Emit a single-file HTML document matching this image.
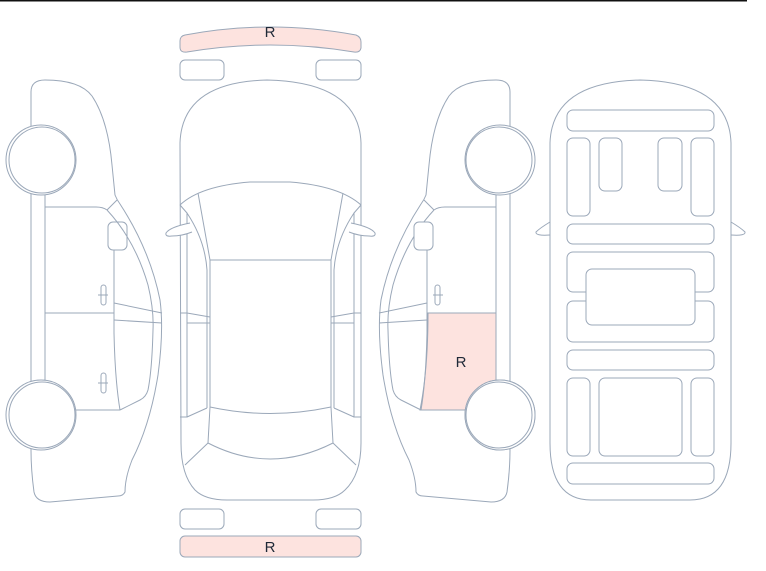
<!DOCTYPE html>
<html><head><meta charset="utf-8"><style>
html,body{margin:0;padding:0;background:#fff;}
svg{display:block;}
text{font-family:"Liberation Sans",sans-serif;font-size:15px;fill:#1f2937;}
</style></head><body>
<svg width="766" height="571" viewBox="0 0 766 571" xmlns="http://www.w3.org/2000/svg">
<rect x="0" y="0" width="747" height="1.5" fill="#111"/>
<defs>
<g id="side" fill="none" stroke="#9ba8b9" stroke-width="1">
  <path d="M31,92 Q31,80 45,80 Q80,80 92,96 Q108,120 112,165 L115,195 Q117,200 120,204 Q150,250 160,300 Q164,330 158,375 Q150,425 132,460 Q125,478 125,492 Q123,496 118,496 L50,502 Q36,502 34,492 Q31,470 31,450 Z" fill="#fff"/>
  <path d="M107,210 L117,200"/>
  <path d="M107,210 Q135,240 148,285 Q154,310 153,330 Q152,370 148,390 Q146,397 140,400 L120,410"/>
  <path d="M45,207 L96,207 Q103,207 107,210"/>
  <line x1="45" y1="195" x2="45" y2="380"/>
  <line x1="45" y1="313" x2="114" y2="313"/>
  <path d="M114,250 L114,333 Q115,380 120,410"/>
  <line x1="75" y1="410" x2="120" y2="410"/>
  <path d="M114,303 L162,313 M114,320 L162,323"/>
  <rect x="108" y="222" width="19" height="28" rx="5"/>
  <rect x="101" y="285" width="5" height="20" rx="2.5"/>
  <line x1="98" y1="295" x2="108" y2="295"/>
  <rect x="101" y="373" width="5" height="20" rx="2.5"/>
  <line x1="98" y1="383" x2="108" y2="383"/>
  <circle cx="41" cy="160" r="35" fill="#fff"/>
  <circle cx="42" cy="160" r="33" fill="#fff"/>
  <circle cx="41" cy="415" r="35" fill="#fff"/>
  <circle cx="42" cy="415" r="33" fill="#fff"/>
</g>
</defs>
<use href="#side"/>
<path d="M420,410 Q428,370 428,313 L496,313 L496,385 Q470,395 465,410 Z" fill="#fde3df" stroke="#9ba8b9" stroke-width="1"/>
<g transform="translate(541,0) scale(-1,1)">
  <g fill="none" stroke="#9ba8b9" stroke-width="1">
  <circle cx="41" cy="415" r="35" fill="#fff"/>
  <circle cx="42" cy="415" r="33" fill="#fff"/>
  </g>
</g>
<g transform="translate(541,0) scale(-1,1)">
  <g fill="none" stroke="#9ba8b9" stroke-width="1">
  <path d="M31,92 Q31,80 45,80 Q80,80 92,96 Q108,120 112,165 L115,195 Q117,200 120,204 Q150,250 160,300 Q164,330 158,375 Q150,425 132,460 Q125,478 125,492 Q123,496 118,496 L50,502 Q36,502 34,492 Q31,470 31,450 Z"/>
  <path d="M107,210 L117,200"/>
  <path d="M107,210 Q135,240 148,285 Q154,310 153,330 Q152,370 148,390 Q146,397 140,400 L120,410"/>
  <path d="M45,207 L96,207 Q103,207 107,210"/>
  <line x1="45" y1="195" x2="45" y2="380"/>
  <line x1="45" y1="313" x2="114" y2="313"/>
  <path d="M114,250 L114,333 Q115,380 120,410"/>
  <line x1="75" y1="410" x2="120" y2="410"/>
  <path d="M114,303 L162,313 M114,320 L162,323"/>
  <rect x="108" y="222" width="19" height="28" rx="5" fill="#fff"/>
  <rect x="101" y="285" width="5" height="20" rx="2.5" fill="#fff"/>
  <line x1="98" y1="295" x2="108" y2="295"/>
  <circle cx="41" cy="160" r="35" fill="#fff"/>
  <circle cx="42" cy="160" r="33" fill="#fff"/>
  <circle cx="41" cy="415" r="35" fill="#fff"/>
  <circle cx="42" cy="415" r="33" fill="#fff"/>
  </g>
</g>
<text x="461" y="367" text-anchor="middle">R</text>

<!-- top view -->
<g fill="none" stroke="#9ba8b9" stroke-width="1">
  <path d="M190,45 Q270,38 351,45 Q361,35 351,33 Q270,20 190,33 Q180,35 180,42 L180,45 Q182,52 190,52 Q270,40 351,52 Q361,52 361,45 L361,40" fill="none" stroke="none"/>
  <path d="M185,35 Q270,19 356,35 Q361,37 361,42 L361,48 Q360,53 354,52 Q270,38 187,52 Q180,53 180,47 L180,41 Q180,36 185,35 Z" fill="#fde3df"/>
  <rect x="180" y="60" width="44" height="20" rx="5"/>
  <rect x="316" y="60" width="45" height="20" rx="5"/>
  <rect x="180" y="509" width="44" height="20" rx="5"/>
  <rect x="316" y="509" width="45" height="20" rx="5"/>
  <rect x="180" y="536" width="181" height="21" rx="5" fill="#fde3df"/>
  <path d="M180,143 Q182,82 267,80 Q359,82 361,143 L361,443 Q361,475 345,490 Q335,500 313,500 L227,500 Q205,500 195,490 Q181,475 181,443 Z"/>
  <path d="M180,205 Q200,186 250,182 L290,182 Q340,186 361,205"/>
  <path d="M198,193 L210,260 L210,407 Q270,420 331,407 L331,260 L343,193"/>
  <line x1="210" y1="260" x2="331" y2="260"/>
  <path d="M210,407 L208,443 Q270,475 333,443 L331,407"/>
  <path d="M208,443 L185,465 M333,443 L356,465"/>
  <path d="M180,205 L187,213 L187,417 L180,417 M187,417 L207,408"/>
  <path d="M361,205 L354,213 L354,417 L361,417 M354,417 L334,408"/>
  <path d="M187,213 Q205,240 207,270 L207,408 M354,213 Q336,240 334,270 L334,408"/>
  <path d="M187,313 L210,317 M187,323 L210,323 M180,313 L187,313"/>
  <path d="M354,313 L331,317 M354,323 L331,323 M361,313 L354,313"/>
  <path d="M190,223 Q170,227 166,233 Q165,237 172,236 Q182,236 192,232" fill="#fff"/>
  <path d="M351,223 Q371,227 375,233 Q376,237 369,236 Q359,236 349,232" fill="#fff"/>
</g>
<text x="270" y="37" text-anchor="middle">R</text>
<text x="270" y="552" text-anchor="middle">R</text>

<!-- underbody -->
<g fill="none" stroke="#9ba8b9" stroke-width="1">
  <path d="M550,143 Q552,82 640,80 Q729,82 731,143 L731,443 Q731,500 690,500 L591,500 Q550,500 550,443 Z"/>
  <path d="M550,222 Q540,228 536,232 Q535,236 550,235"/>
  <path d="M731,222 Q741,228 745,232 Q746,236 731,235"/>
  <rect x="567" y="110" width="147" height="21" rx="6"/>
  <rect x="567" y="138" width="23" height="78" rx="6"/>
  <rect x="599" y="138" width="23" height="53" rx="6"/>
  <rect x="658" y="138" width="24" height="53" rx="6"/>
  <rect x="691" y="138" width="23" height="78" rx="6"/>
  <rect x="567" y="224" width="147" height="20" rx="6"/>
  <rect x="567" y="252" width="147" height="40" rx="6"/>
  <rect x="567" y="301" width="147" height="41" rx="6"/>
  <rect x="586" y="269" width="109" height="56" rx="6" fill="#fff"/>
  <rect x="567" y="350" width="147" height="20" rx="6"/>
  <rect x="567" y="378" width="23" height="78" rx="6"/>
  <rect x="599" y="378" width="83" height="78" rx="6"/>
  <rect x="691" y="378" width="23" height="78" rx="6"/>
  <rect x="567" y="463" width="147" height="21" rx="6"/>
</g>
</svg>
</body></html>
